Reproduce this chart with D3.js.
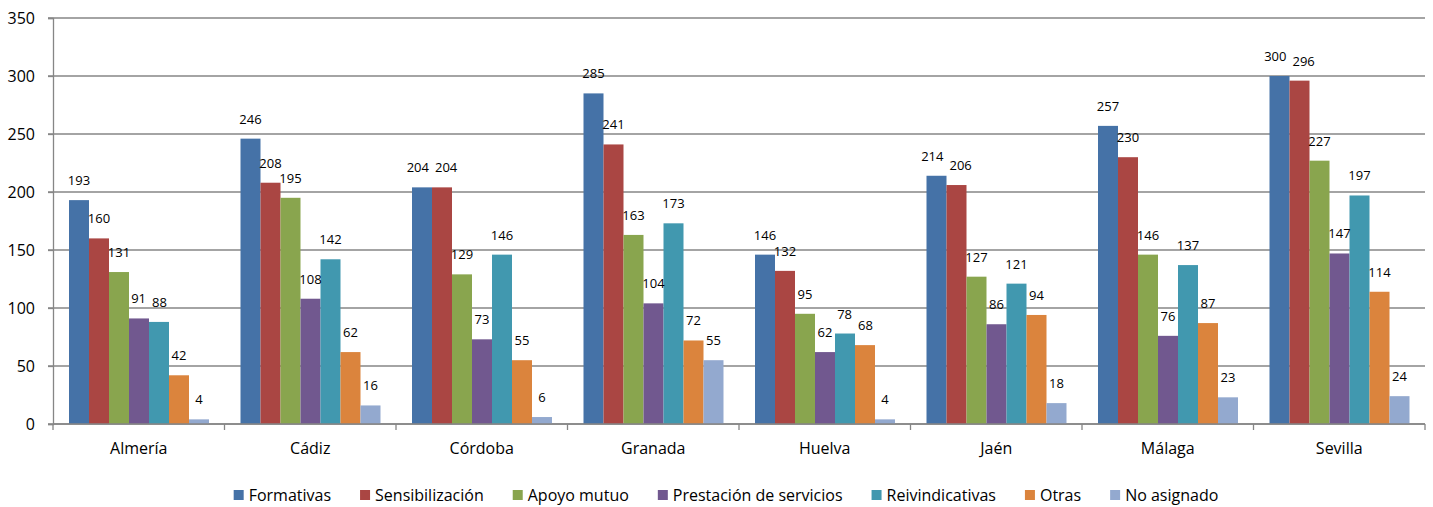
<!DOCTYPE html>
<html>
<head>
<meta charset="utf-8">
<script src="https://cdn.jsdelivr.net/npm/d3@7"></script>
<style>
  body { margin: 0; background: #fff; }
  text { font-family: "Open Sans", sans-serif; fill: #000; }
</style>
</head>
<body>
<div id="chart"></div>
<script>
// datos
const provincias = ["Almería", "Cádiz", "Córdoba", "Granada", "Huelva", "Jaén", "Málaga", "Sevilla"];
const series = ["Formativas", "Sensibilización", "Apoyo mutuo", "Prestación de servicios", "Reivindicativas", "Otras", "No asignado"];
const colores = ["#4572A7", "#AA4643", "#89A54E", "#71588F", "#4198AF", "#DB843D", "#93A9CF"];
const formativas      = [193, 246, 204, 285, 146, 214, 257, 300];
const sensibilizacion = [160, 208, 204, 241, 132, 206, 230, 296];
const apoyoMutuo      = [131, 195, 129, 163, 95, 127, 146, 227];
const prestacion      = [91, 108, 73, 104, 62, 86, 76, 147];
const reivindicativas = [88, 142, 146, 173, 78, 121, 137, 197];
const otras           = [42, 62, 55, 72, 68, 94, 87, 114];
const noAsignado      = [4, 16, 6, 55, 4, 18, 23, 24];
const yTicks = [0, 50, 100, 150, 200, 250, 300, 350];

const valores = [formativas, sensibilizacion, apoyoMutuo, prestacion, reivindicativas, otras, noAsignado];

const width = 1433, height = 507;
const m = { left: 53, right: 1425, top: 18, bottom: 424 };
const gridColor = "#868686";

const svg = d3.select("#chart")
  .append("svg")
  .attr("width", width)
  .attr("height", height);

// escalas
const x0 = d3.scaleBand().domain(provincias).range([m.left, m.right]);
const x1 = d3.scaleBand().domain(series).range([16, x0.bandwidth() - 15.5]);
const y = d3.scaleLinear().domain([0, 350]).range([m.bottom, m.top]);

// líneas de cuadrícula
svg.append("g")
  .selectAll("line")
  .data(yTicks)
  .join("line")
  .attr("x1", m.left - 5)
  .attr("x2", m.right)
  .attr("y1", d => y(d))
  .attr("y2", d => y(d))
  .attr("stroke", gridColor)
  .attr("stroke-width", 1.3);

// eje Y
const yAxis = svg.append("g")
  .attr("transform", `translate(${m.left},0)`)
  .call(d3.axisLeft(y).tickValues(yTicks).tickSize(5).tickPadding(13));
yAxis.select(".domain").attr("stroke", gridColor).attr("stroke-width", 1.3);
yAxis.selectAll(".tick line").attr("stroke", gridColor).attr("stroke-width", 1.3);
yAxis.selectAll(".tick text")
  .style("font-family", "'Open Sans', sans-serif")
  .style("font-size", "16px")
  .attr("fill", "#000");

// eje X
svg.append("g")
  .selectAll("line")
  .data(provincias.map(p => x0(p)).concat([m.right]))
  .join("line")
  .attr("x1", d => d).attr("x2", d => d)
  .attr("y1", m.bottom).attr("y2", m.bottom + 6)
  .attr("stroke", gridColor).attr("stroke-width", 1.3);

svg.append("g")
  .selectAll("text")
  .data(provincias)
  .join("text")
  .attr("x", d => x0(d) + x0.bandwidth() / 2)
  .attr("y", 454)
  .attr("text-anchor", "middle")
  .style("font-size", "16px")
  .text(d => d);

// barras
const grupos = svg.append("g")
  .selectAll("g")
  .data(provincias)
  .join("g")
  .attr("transform", d => `translate(${x0(d)},0)`);

const filas = (p, i) => series.map((s, k) => ({ serie: s, k, valor: valores[k][i] }));

grupos.selectAll("rect")
  .data(filas)
  .join("rect")
  .attr("x", d => x1(d.serie))
  .attr("y", d => y(d.valor))
  .attr("width", x1.bandwidth())
  .attr("height", d => y(0) - y(d.valor))
  .attr("fill", d => colores[d.k]);

// etiquetas de datos
grupos.each(function (p, gi) {
  const etiquetas = d3.select(this).selectAll("text")
    .data(filas(p, gi))
    .join("text")
    .attr("x", d => x1(d.serie) + x1.bandwidth() / 2)
    .attr("y", d => y(d.valor) - 15)
    .attr("text-anchor", "middle")
    .style("font-size", "13px")
    .text(d => d.valor);

  // separar etiquetas vecinas que se solapan
  const nodos = etiquetas.nodes();
  for (let i = 1; i < nodos.length; i++) {
    const a = nodos[i - 1], b = nodos[i];
    const ya = +a.getAttribute("y"), yb = +b.getAttribute("y");
    if (Math.abs(ya - yb) > 12) continue;
    const xa = +a.getAttribute("x"), xb = +b.getAttribute("x");
    const solape = (a.getComputedTextLength() + b.getComputedTextLength()) / 2 + 6 - (xb - xa);
    if (solape > 0) {
      a.setAttribute("x", xa - solape / 2);
      b.setAttribute("x", xb + solape / 2);
    }
  }
});

// eje base
svg.append("line")
  .attr("x1", m.left).attr("x2", m.right)
  .attr("y1", m.bottom).attr("y2", m.bottom)
  .attr("stroke", gridColor).attr("stroke-width", 1.3);

// leyenda
const leyenda = svg.append("g").attr("transform", "translate(0,495)");
const items = leyenda.selectAll("g")
  .data(series)
  .join("g");
items.append("rect")
  .attr("y", -5)
  .attr("width", 10)
  .attr("height", 10)
  .attr("fill", (d, i) => colores[i]);
items.append("text")
  .attr("x", 15)
  .attr("dy", "0.35em")
  .style("font-size", "16px")
  .text(d => d);

const hueco = 29;
let pos = 0;
const posiciones = [];
items.each(function () {
  posiciones.push(pos);
  pos += 15 + this.querySelector("text").getComputedTextLength() + hueco;
});
const total = pos - hueco;
const inicio = 726 - total / 2;
items.attr("transform", (d, i) => `translate(${inicio + posiciones[i]},0)`);
</script>
</body>
</html>
